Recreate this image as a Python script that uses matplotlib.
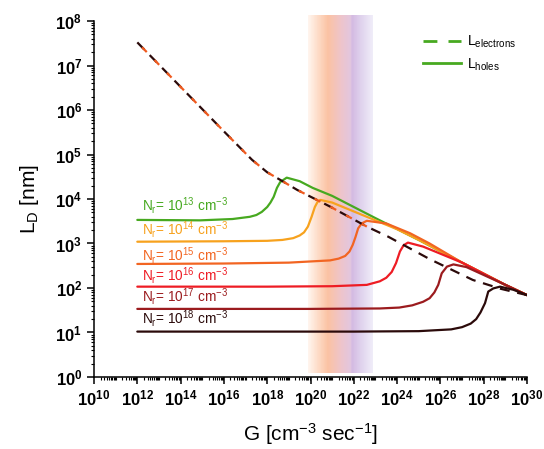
import numpy as np
import matplotlib
matplotlib.use('Agg')
import matplotlib.pyplot as plt
from matplotlib.ticker import FixedLocator, FuncFormatter, NullFormatter

plt.rcParams['font.family'] = ['Liberation Sans', 'DejaVu Sans']
plt.rcParams['mathtext.fontset'] = 'custom'
plt.rcParams['mathtext.rm'] = 'Liberation Sans'
plt.rcParams['mathtext.it'] = 'Liberation Sans:italic'
plt.rcParams['mathtext.bf'] = 'Liberation Sans:bold'

# Nr values (exponents) and colours of the curves
nr_exp = [13, 14, 15, 16, 17, 18]
colores = ['#47a920', '#f7a21e', '#f26522', '#ee1c24', '#9b1b1e', '#2b0a0a']

# L_electrons (common dashed curve), log10(G) and log10(L_D)
e_logG = [12.0, 14.0, 16.0, 17.3, 18.0, 18.6, 19.4, 20.9, 22.6, 23.6, 25.5, 27.5, 28.8, 30.0]
e_logL = [7.52, 6.52, 5.52, 4.88, 4.60, 4.43, 4.20, 3.83, 3.38, 3.15, 2.65, 2.18, 1.98, 1.84]

# L_holes for each Nr, log10(G) and log10(L_D)
h_logG = [
    [12.0, 14.9, 16.4, 17.2, 17.5, 17.75, 18.0, 18.15, 18.3, 18.45, 18.6, 18.9, 19.5, 20.1, 21.0, 23.0, 25.0, 27.0, 29.0, 30.0],
    [12.0, 16.0, 18.0, 18.7, 19.2, 19.5, 19.7, 19.88, 20.05, 20.2, 20.32, 20.45, 21.0, 21.8, 22.8, 24.0, 25.0, 27.0, 29.0, 30.0],
    [12.0, 16.0, 19.0, 20.9, 21.3, 21.6, 21.8, 21.95, 22.08, 22.2, 22.36, 22.6, 23.5, 24.6, 25.5, 27.0, 29.0, 30.0],
    [12.0, 18.0, 21.0, 22.6, 23.2, 23.5, 23.75, 23.95, 24.13, 24.3, 24.5, 25.2, 26.0, 27.0, 29.0, 30.0],
    [12.0, 20.0, 23.2, 24.1, 24.7, 25.2, 25.5, 25.72, 25.9, 26.06, 26.3, 26.6, 27.2, 27.83, 29.0, 30.0],
    [12.0, 22.0, 25.0, 26.5, 27.0, 27.4, 27.65, 27.85, 28.06, 28.21, 28.44, 28.75, 29.37, 30.0],
]
h_logL = [
    [3.53, 3.52, 3.55, 3.60, 3.64, 3.71, 3.82, 3.92, 4.05, 4.25, 4.38, 4.48, 4.40, 4.25, 4.07, 3.57, 3.08, 2.57, 2.07, 1.84],
    [3.04, 3.05, 3.06, 3.08, 3.12, 3.18, 3.25, 3.38, 3.60, 3.82, 3.93, 3.98, 3.92, 3.76, 3.56, 3.32, 3.08, 2.57, 2.07, 1.84],
    [2.54, 2.55, 2.57, 2.62, 2.66, 2.72, 2.82, 2.97, 3.15, 3.34, 3.45, 3.51, 3.45, 3.23, 3.00, 2.57, 2.07, 1.84],
    [2.03, 2.03, 2.04, 2.07, 2.15, 2.23, 2.36, 2.56, 2.82, 2.96, 3.02, 2.93, 2.77, 2.57, 2.07, 1.84],
    [1.53, 1.53, 1.54, 1.56, 1.61, 1.69, 1.77, 1.90, 2.07, 2.33, 2.48, 2.53, 2.47, 2.33, 2.07, 1.84],
    [1.02, 1.02, 1.03, 1.07, 1.12, 1.20, 1.30, 1.45, 1.66, 1.92, 1.99, 2.03, 1.96, 1.84],
]

# posicion de las etiquetas Nr (log10 L)
etiqueta_y = [3.86, 3.32, 2.73, 2.29, 1.80, 1.31]

fig = plt.figure(figsize=(5.44, 4.49), dpi=100)
ax = fig.add_axes([0.1728, 0.1604, 0.7960, 0.7928])
ax.set_xscale('log')
ax.set_yscale('log')
ax.set_xlim(1e10, 1e30)
ax.set_ylim(1, 1e8)

# banda sombreada con degradado (naranja -> morado)
pos = [19.88, 20.3, 20.81, 21.4, 21.85, 21.92, 22.3, 22.89]
cols = np.array([(255, 246, 240), (253, 222, 203), (251, 194, 163), (238, 196, 202),
                 (226, 198, 222), (212, 186, 226), (222, 208, 236), (240, 238, 249)]) / 255
n = 150
bordes = np.linspace(pos[0], pos[-1], n + 1)
for i in range(n):
    c = (bordes[i] + bordes[i + 1]) / 2
    rgb = [np.interp(c, pos, cols[:, k]) for k in range(3)]
    ax.axvspan(10 ** bordes[i], 10 ** bordes[i + 1], ymin=0.01, ymax=1.017,
               color=rgb, lw=0, zorder=0, clip_on=False)

eG = 10 ** np.array(e_logG)
eL = 10 ** np.array(e_logL)

# huecos
for k in range(len(nr_exp)):
    ax.plot(10 ** np.array(h_logG[k]), 10 ** np.array(h_logL[k]), color=colores[k],
            lw=1.6, zorder=3, solid_capstyle='round', solid_joinstyle='round')
    ax.text(10 ** 12.2, 10 ** etiqueta_y[k],
            r'N$_\mathrm{r}$= 10$^{%d}$ cm$^{-3}$' % nr_exp[k], color=colores[k],
            fontsize=9.8, va='center', ha='left', zorder=5)

# electrones
ax.plot(eG, eL, color=colores[5], lw=1.6, linestyle=(0, (4.5, 3.5)), zorder=4)
m = np.array(e_logG) <= 22.6
ax.plot(eG[m], eL[m], color='#f05a1e', lw=1.6, linestyle=(4.9, (3.0, 5.0)), zorder=4)

# leyenda
ax.plot([], [], color='#47a920', lw=2.0, linestyle=(0, (5, 4)), label=r'L$_\mathrm{electrons}$')
ax.plot([], [], color='#47a920', lw=2.0, label=r'L$_\mathrm{holes}$')
ax.legend(loc='upper left', bbox_to_anchor=(0.73, 1.0), frameon=False, fontsize=10,
          handlelength=2.8, handletextpad=0.4, labelspacing=0.45)

# ejes
fmt = FuncFormatter(lambda v, p: r'$\mathbf{10^{%d}}$' % int(round(np.log10(v))))
ax.xaxis.set_major_locator(FixedLocator(10.0 ** np.arange(10, 31, 2)))
ax.xaxis.set_minor_locator(FixedLocator([s * 10.0 ** e for e in range(10, 30) for s in range(1, 10)
                                         if not (s == 1 and e % 2 == 0)]))
ax.yaxis.set_major_locator(FixedLocator(10.0 ** np.arange(0, 9)))
ax.yaxis.set_minor_locator(FixedLocator([s * 10.0 ** e for e in range(0, 8) for s in range(2, 10)]))
ax.xaxis.set_major_formatter(fmt)
ax.yaxis.set_major_formatter(fmt)
ax.xaxis.set_minor_formatter(NullFormatter())
ax.yaxis.set_minor_formatter(NullFormatter())
ax.tick_params(which='major', direction='out', length=5, width=1.1, labelsize=12)
ax.tick_params(which='minor', direction='out', length=2.5, width=0.8)
ax.spines['top'].set_visible(False)
ax.spines['right'].set_visible(False)
ax.spines['left'].set_linewidth(1.1)
ax.spines['bottom'].set_linewidth(1.1)

ax.set_xlabel(r'G [cm$^{-3}$ sec$^{-1}$]', fontsize=15, labelpad=9)
ax.set_ylabel(r'L$_\mathrm{D}$ [nm]', fontsize=15, labelpad=10)

fig.savefig('out.png', dpi=100)
